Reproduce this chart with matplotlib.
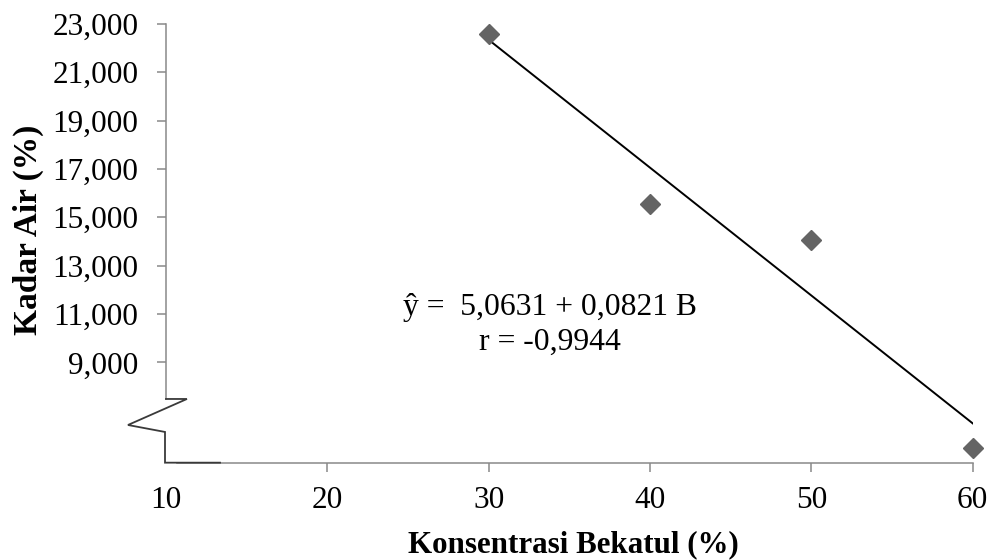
import numpy as np
import matplotlib
matplotlib.use("Agg")
import matplotlib.pyplot as plt
from matplotlib.ticker import FuncFormatter

plt.rcParams["font.family"] = ["Liberation Serif", "DejaVu Serif"]

# --- data ---
konsentrasi_bekatul = [30, 40, 50, 60]          # %
kadar_air = [22.59, 15.54, 14.06, 5.45]          # %
x_ticks = [10, 20, 30, 40, 50, 60]
y_ticks = [9, 11, 13, 15, 17, 19, 21, 23]
equation_text = "ŷ =  5,0631 + 0,0821 B"
r_text = "r = -0,9944"

AXIS_GRAY = "#898989"
MARKER_GRAY = "#646464"

fig = plt.figure(figsize=(9.95, 5.6), dpi=100)
ax = fig.add_axes([0.1668, 0.1738, 0.8108, 0.7834])

# scatter points
ax.plot(konsentrasi_bekatul, kadar_air, linestyle="none", marker="D",
        markersize=10.5, color=MARKER_GRAY, clip_on=False, zorder=3)

# least-squares trend line over the data range
slope, intercept = np.polyfit(konsentrasi_bekatul, kadar_air, 1)
x_fit = np.array([min(konsentrasi_bekatul), max(konsentrasi_bekatul)])
ax.plot(x_fit, intercept + slope * x_fit, color="black", lw=1.4, zorder=2)

ax.set_xlim(10, 60)
ax.set_ylim(4.849, 23.0)

# spines
for side in ("top", "right"):
    ax.spines[side].set_visible(False)
for side in ("left", "bottom"):
    ax.spines[side].set_color(AXIS_GRAY)
    ax.spines[side].set_linewidth(1.1)
ax.spines["left"].set_bounds(7.485, 23.0)
ax.spines["bottom"].set_bounds(10.69, 60)

# axis break drawn in axes-fraction coordinates
brk_x = [0.0, 0.026, -0.0471, -0.0012, -0.0012, 0.067]
brk_y = [0.1452, 0.1452, 0.0859, 0.070, 0.0, 0.0]
ax.plot(brk_x, brk_y, transform=ax.transAxes, color="#3a3a3a", lw=1.3,
        clip_on=False, solid_joinstyle="miter", zorder=4)

# ticks
ax.set_xticks(x_ticks)
ax.set_yticks(y_ticks)
ax.yaxis.set_major_formatter(FuncFormatter(lambda v, _: f"{v:.3f}".replace(".", ",")))
ax.tick_params(axis="both", direction="out", length=6.5, width=1.1,
               color=AXIS_GRAY, labelsize=22.5, labelcolor="black")
ax.tick_params(axis="y", pad=13.5)
ax.tick_params(axis="x", pad=10.5)
ax.xaxis.get_major_ticks()[0].tick1line.set_visible(False)

# axis labels
ax.set_xlabel("Konsentrasi Bekatul (%)", fontsize=22.3, fontweight="bold", va="center")
ax.xaxis.set_label_coords(0.5045, -0.186)
ax.set_ylabel("Kadar Air (%)", fontsize=24, fontweight="bold", va="center")
ax.yaxis.set_label_coords(-0.171, 0.53)

# regression annotation
ax.text(0.4765, 0.3367, equation_text, transform=ax.transAxes, fontsize=22.8,
        ha="center", va="baseline")
ax.text(0.4765, 0.2569, r_text, transform=ax.transAxes, fontsize=22.8,
        ha="center", va="baseline")

fig.savefig("out.png", dpi=100)
